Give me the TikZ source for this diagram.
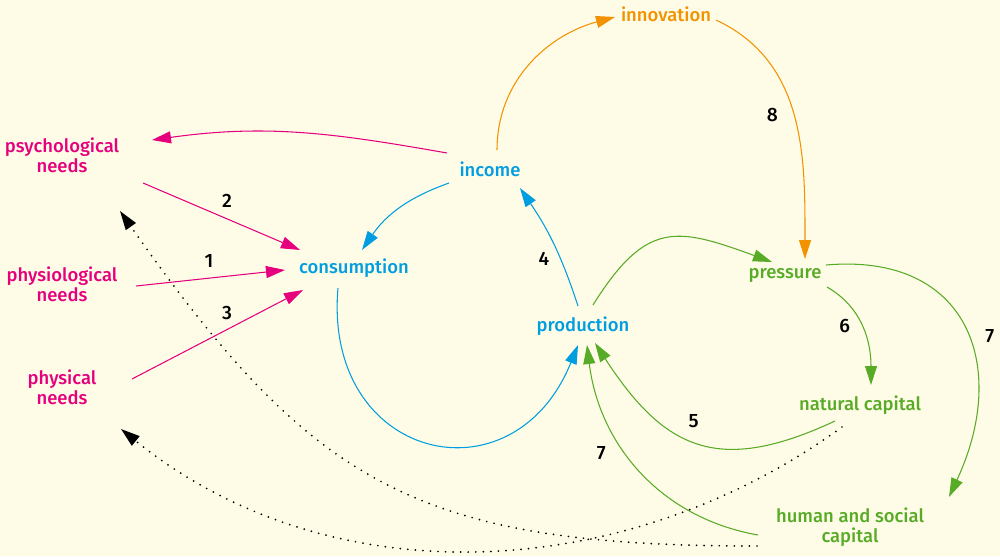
\documentclass[tikz,border=0pt]{standalone}
\usepackage{fontspec}
\setmainfont{Fira Sans}[BoldFont={Fira Sans Medium}]
\usetikzlibrary{arrows.meta,calc}
\definecolor{cdBack}{RGB}{254,252,230}
\definecolor{cdMagenta}{RGB}{230,0,126}
\definecolor{cdBlue}{RGB}{0,158,224}
\definecolor{cdOrange}{RGB}{243,146,0}
\definecolor{cdGreen}{RGB}{88,171,39}

\begin{document}
\begin{tikzpicture}[x=0.2mm, y=-0.2mm,
  lbl/.style={inner sep=0pt, align=center,
    font=\fontsize{10.5}{11.4}\selectfont\bfseries},
  need/.style={lbl, text=cdMagenta},
  econ/.style={lbl, text=cdBlue},
  innv/.style={lbl, text=cdOrange},
  envr/.style={lbl, text=cdGreen},
  num/.style={inner sep=0pt, font=\fontsize{11}{12}\selectfont\bfseries, text=black},
  arr/.style={-{Triangle[length=3.8mm,width=2.4mm]}, line width=0.6pt},
  marr/.style={arr, color=cdMagenta},
  barr/.style={arr, color=cdBlue},
  oarr/.style={arr, color=cdOrange},
  garr/.style={arr, color=cdGreen},
  darr/.style={arr, color=black, line width=1.1pt, line cap=round,
    dash pattern=on 0pt off 4.3pt},
]
\useasboundingbox (0,0) rectangle (1000,556);
\fill[cdBack] (0,0) rectangle (1000,556);

%% Needs
\node[need] (psych)  at (62,155) {psychological\\needs};
\node[need] (physio) at (62,284) {physiological\\needs};
\node[need] (phys)   at (62,387) {physical\\needs};

%% Economy
\node[econ] (cons) at (354,268) {consumption};
\node[econ] (inc)  at (490,169) {income};
\node[econ] (prod) at (583,326) {production};

%% Innovation
\node[innv] (innov) at (666,14) {innovation};

%% Environment
\node[envr] (press)  at (785,275) {pressure};
\node[envr] (natcap) at (860,405) {natural capital};
\node[envr] (human)  at (850,527) {human and social\\capital};

%% ── Arrows ──────────────────────────────────────────

% Needs -> consumption
\draw[marr] ($(inc)+(-43,-16)$) to[out=170, in=8] ($(psych)+(90,-15)$);
\draw[marr] ($(psych)+(81,28)$) -- ($(cons)+(-54,-18)$)
  node[num, pos=.5, shift={(5.5,-15.5)}] {2};
\draw[marr] ($(physio)+(74,2)$) -- ($(cons)+(-69,2)$)
  node[num, pos=.5, shift={(-1.5,-17)}] {1};
\draw[marr] ($(phys)+(70,-8)$) -- ($(cons)+(-51,22)$)
  node[num, pos=.5, shift={(9.5,-21.5)}] {3};

% Economic loop
\draw[barr] ($(inc)+(-41,14)$) to[bend right=18] ($(cons)+(8,-18)$);
\draw[barr] ($(cons)+(-16,20)$) to[out=265, in=248, looseness=1.8] ($(prod)+(-5,19)$);
\draw[barr] ($(prod)+(-5,-20)$) to[bend right=8]
  node[num, pos=.5, shift={(-10,14)}] {4} ($(inc)+(30,19)$);

% Innovation
\draw[oarr] ($(inc)+(7,-19)$) to[out=90, in=195] ($(innov)+(-51,3)$);
\draw[oarr] ($(innov)+(50,6)$) to[out=335, in=90]
  node[num, pos=.5, shift={(-22,-3)}] {8} ($(press)+(20,-16)$);

% Environment
\draw[garr] ($(prod)+(10,-21)$) to[out=58, in=160, looseness=1.4] ($(press)+(-13,-13)$);
\draw[garr] ($(press)+(42,12)$) to[out=330, in=90]
  node[num, pos=.5, shift={(-18,-2)}] {6} ($(natcap)+(11,-20)$);
\draw[garr] ($(press)+(41,-10)$) to[out=5, in=65, looseness=1.4]
  node[num, pos=.5, shift={(26,9)}] {7} ($(human)+(99,-30)$);
\draw[garr] ($(natcap)+(-25,16)$) to[out=205, in=303, looseness=1.3]
  node[num, pos=.5, shift={(-4,-21)}] {5} ($(prod)+(12,17)$);
\draw[garr] ($(human)+(-92,8)$) to[out=170, in=277]
  node[num, pos=.5, shift={(-39,-18)}] {7} ($(prod)+(4,19)$);

% Feedback to needs
\draw[darr] ($(human)+(-93,19)$) to[out=180, in=305, looseness=1.2] ($(psych)+(58,56)$);
\draw[darr] ($(natcap)+(-18,22)$) to[out=216, in=321, looseness=0.95] ($(phys)+(59,42)$);

\end{tikzpicture}
\end{document}
